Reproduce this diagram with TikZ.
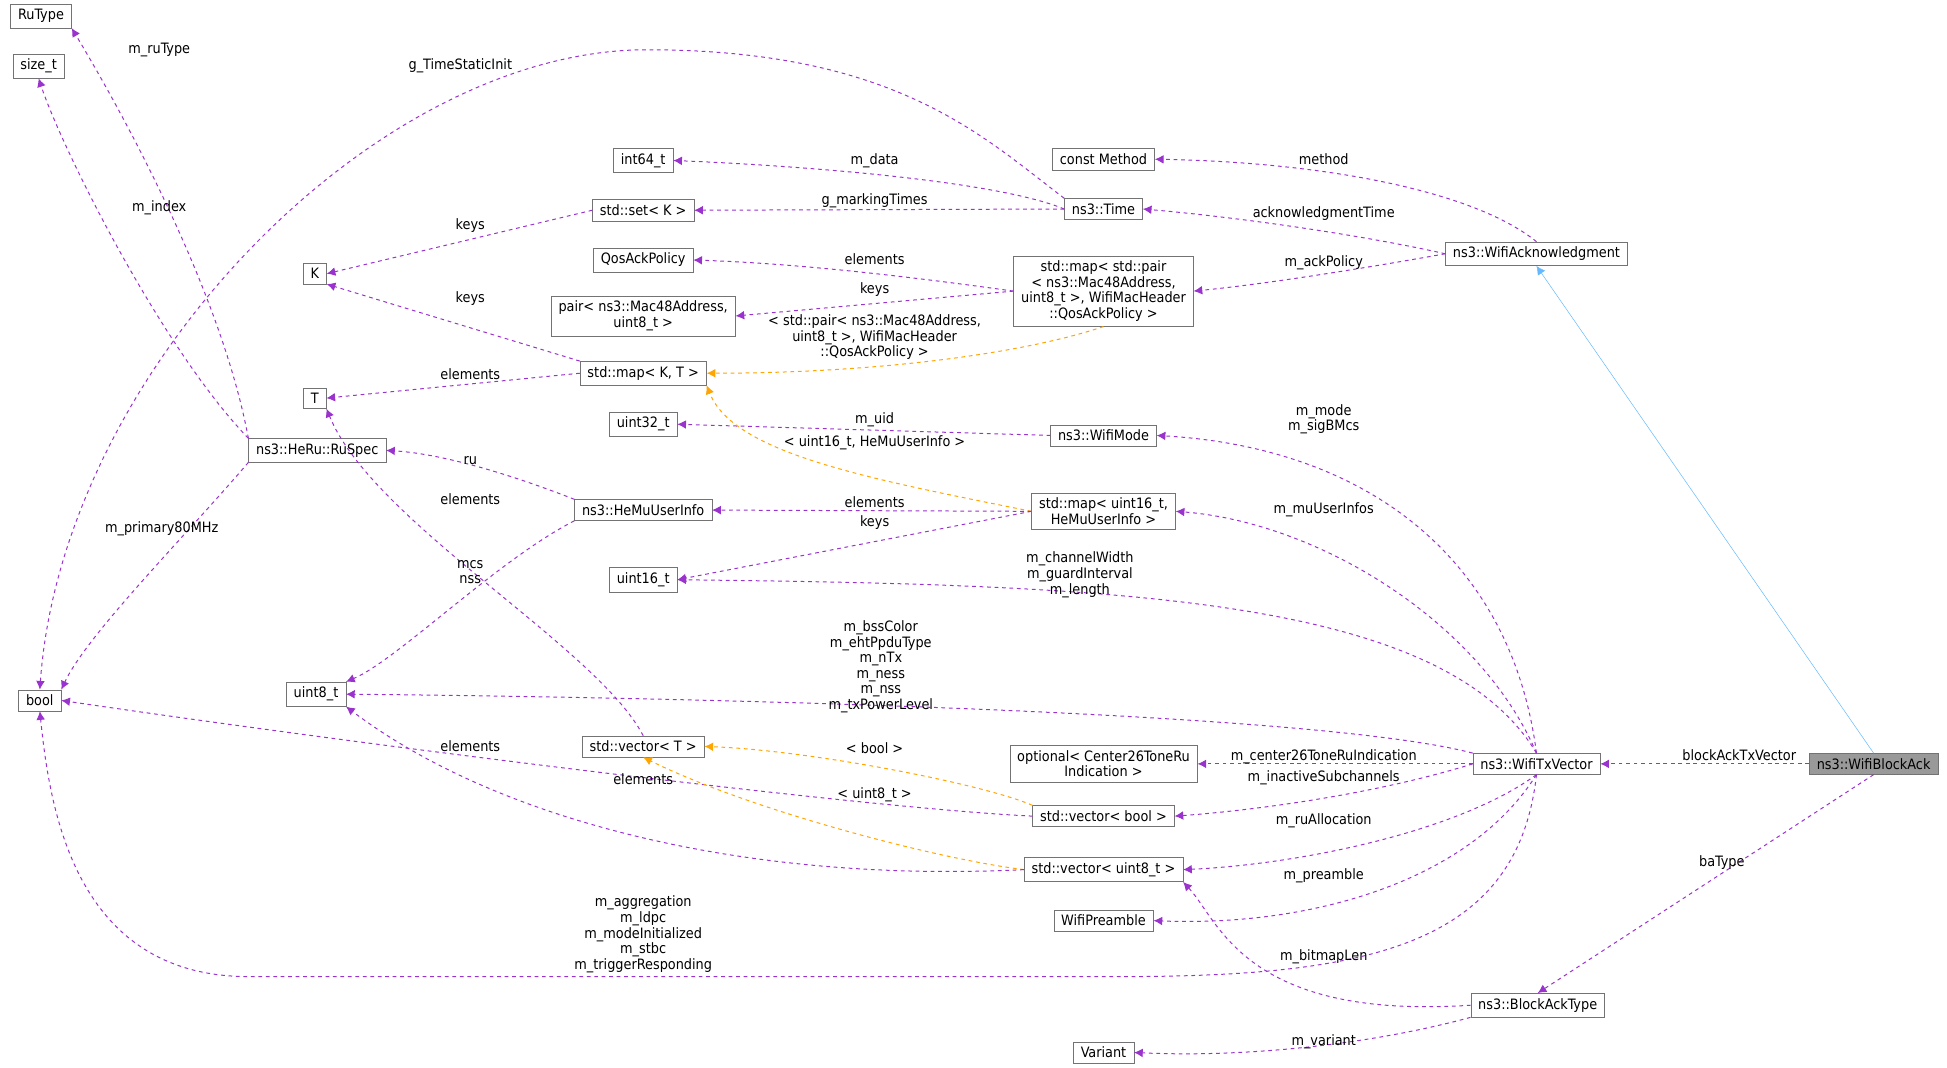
\documentclass[tikz,border=0pt]{standalone}
\usepackage{fontspec}
\setmainfont{DejaVu Sans Condensed}
\usetikzlibrary{arrows.meta}
\definecolor{memb}{HTML}{9A32CD}
\definecolor{tmpl}{HTML}{FFA500}
\definecolor{inher}{HTML}{63B8FF}
\tikzset{
  cls/.style={draw=black!55, fill=white, inner xsep=6pt, inner ysep=4pt, font=\fontsize{11.5}{12.5}\selectfont, align=center},
  lbl/.style={font=\fontsize{11.5}{12.5}\selectfont, align=center, inner sep=0pt},
  uses/.style={memb, dashed, thick, -{Latex[length=7pt,width=7pt]}},
  inst/.style={tmpl, dashed, thick, -{Latex[length=7pt,width=7pt]}},
  isa/.style={inher, -{Latex[length=7pt,width=7pt]}},
}
\begin{document}
\begin{tikzpicture}[x=1pt,y=-1pt]
  \useasboundingbox (0,0) rectangle (1565,858);
  % classes
  \node[cls] (rutype) at (33,13) {RuType};
  \node[cls] (sizet) at (31,53) {size\_t};
  \node[cls] (k) at (253,220) {K};
  \node[cls] (t) at (253,320) {T};
  \node[cls] (bool) at (32,563) {bool};
  \node[cls] (uint8) at (254,558) {uint8\_t};
  \node[cls] (ruspec) at (255,362) {ns3::HeRu::RuSpec};
  \node[cls] (int64) at (517,129) {int64\_t};
  \node[cls] (setk) at (517,169) {std::set< K >};
  \node[cls] (qos) at (517,209) {QosAckPolicy};
  \node[cls] (pair) at (517,254) {pair< ns3::Mac48Address,\\uint8\_t >};
  \node[cls] (mapkt) at (517,300) {std::map< K, T >};
  \node[cls] (uint32) at (517,341) {uint32\_t};
  \node[cls] (hemu) at (517,410) {ns3::HeMuUserInfo};
  \node[cls] (uint16) at (517,466) {uint16\_t};
  \node[cls] (vect) at (517,600) {std::vector< T >};
  \node[cls] (method) at (887,128) {const Method};
  \node[cls] (time) at (887,168) {ns3::Time};
  \node[cls] (mappair) at (887,234) {std::map< std::pair\\< ns3::Mac48Address,\\ uint8\_t >, WifiMacHeader\\::QosAckPolicy >};
  \node[cls] (wifimode) at (887,350) {ns3::WifiMode};
  \node[cls] (mapu16) at (887,411) {std::map< uint16\_t,\\HeMuUserInfo >};
  \node[cls] (optional) at (887,614) {optional< Center26ToneRu\\Indication >};
  \node[cls] (vecbool) at (887,656) {std::vector< bool >};
  \node[cls] (vecu8) at (887,699) {std::vector< uint8\_t >};
  \node[cls] (preamble) at (887,740) {WifiPreamble};
  \node[cls] (variant) at (887,846) {Variant};
  \node[cls] (wifiack) at (1235,204) {ns3::WifiAcknowledgment};
  \node[cls] (txvector) at (1235,614) {ns3::WifiTxVector};
  \node[cls] (batype) at (1236,808) {ns3::BlockAckType};
  \node[cls, fill=black!40] (blockack) at (1506,614) {ns3::WifiBlockAck};
  % connectors
  \draw[uses] (ruspec.north west) .. controls (175,220) and (80,60) .. (rutype.south east);
  \draw[uses] (ruspec.north west) .. controls (130,280) and (50,120) .. (sizet.south);
  \draw[uses] (ruspec.south west) .. controls (150,430) and (70,510) .. (bool.north east);
  \draw[uses] (time.north west) .. controls (790,110) and (720,40) .. (520,40) .. controls (300,40) and (50,300) .. (bool.north);
  \draw[uses] (time.west) .. controls (800,145) and (640,133) .. (int64.east);
  \draw[uses] (time.west) -- (setk.east);
  \draw[uses] (setk.west) -- (k.east);
  \draw[uses] (mapkt.north west) -- (k.south east);
  \draw[uses] (mapkt.west) -- (t.east);
  \draw[uses] (mappair.west) .. controls (750,225) and (650,212) .. (qos.east);
  \draw[uses] (mappair.west) -- (pair.east);
  \draw[inst] (mappair.south) .. controls (820,285) and (700,300) .. (mapkt.east);
  \draw[uses] (wifimode.west) -- (uint32.east);
  \draw[inst] (mapu16.west) .. controls (700,385) and (590,365) .. (mapkt.south east);
  \draw[uses] (mapu16.west) -- (hemu.east);
  \draw[uses] (mapu16.west) -- (uint16.east);
  \draw[uses] (hemu.north west) .. controls (420,385) and (360,365) .. (ruspec.east);
  \draw[uses] (hemu.south west) .. controls (400,450) and (320,530) .. (uint8.north east);
  \draw[uses] (vect.north) .. controls (480,520) and (300,420) .. (t.south east);
  \draw[uses] (wifiack.north) .. controls (1180,150) and (1050,130) .. (method.east);
  \draw[uses] (wifiack.west) .. controls (1100,190) and (1000,175) .. (time.east);
  \draw[uses] (wifiack.west) .. controls (1100,215) and (1020,228) .. (mappair.east);
  \draw[isa] (blockack.north) -- (wifiack.south);
  \draw[uses] (txvector.north) .. controls (1215,450) and (1100,360) .. (wifimode.east);
  \draw[uses] (txvector.north) .. controls (1190,500) and (1060,420) .. (mapu16.east);
  \draw[uses] (txvector.north) .. controls (1160,480) and (900,470) .. (uint16.east);
  \draw[uses] (txvector.north west) .. controls (1050,570) and (500,560) .. (uint8.east);
  \draw[uses] (txvector.west) -- (optional.east);
  \draw[uses] (txvector.west) .. controls (1100,640) and (1000,652) .. (vecbool.east);
  \draw[uses] (txvector.south) .. controls (1170,670) and (1040,695) .. (vecu8.east);
  \draw[uses] (txvector.south) .. controls (1180,710) and (1050,745) .. (preamble.east);
  \draw[uses] (txvector.south) .. controls (1220,760) and (1100,785) .. (900,785) -- (200,785) .. controls (60,785) and (40,650) .. (bool.south);
  \draw[uses] (vecbool.west) .. controls (700,650) and (300,600) .. (bool.east);
  \draw[inst] (vecbool.north west) .. controls (790,630) and (650,603) .. (vect.east);
  \draw[inst] (vecu8.west) .. controls (750,690) and (600,650) .. (vect.south);
  \draw[uses] (vecu8.west) .. controls (600,710) and (400,660) .. (uint8.south east);
  \draw[uses] (blockack.west) -- (txvector.east);
  \draw[uses] (blockack.south) -- (batype.north);
  \draw[uses] (batype.south west) .. controls (1100,840) and (1000,850) .. (variant.east);
  \draw[uses] (batype.west) .. controls (1000,820) and (980,740) .. (vecu8.south east);
  % member names
  \node[lbl] (lruType) at (128,40) {m\_ruType};
  \node[lbl] (lindex) at (128,167) {m\_index};
  \node[lbl] (lprimary) at (130,425) {m\_primary80MHz};
  \node[lbl] (lstatic) at (370,53) {g\_TimeStaticInit};
  \node[lbl] (ldata) at (703,129) {m\_data};
  \node[lbl] (lmarking) at (703,161) {g\_markingTimes};
  \node[lbl] (lkeysa) at (378,181) {keys};
  \node[lbl] (lkeysb) at (378,240) {keys};
  \node[lbl] (lelemt) at (378,301) {elements};
  \node[lbl] (lelemq) at (703,208) {elements};
  \node[lbl] (lkeysp) at (703,233) {keys};
  \node[lbl] (lpairarg) at (703,271) {< std::pair< ns3::Mac48Address,\\uint8\_t >, WifiMacHeader\\::QosAckPolicy >};
  \node[lbl] (luid) at (703,337) {m\_uid};
  \node[lbl] (lu16arg) at (703,356) {< uint16\_t, HeMuUserInfo >};
  \node[lbl] (lelemh) at (703,404) {elements};
  \node[lbl] (lkeysu) at (703,420) {keys};
  \node[lbl] (lru) at (378,370) {ru};
  \node[lbl] (lmcs) at (378,460) {mcs\\nss};
  \node[lbl] (lelemv) at (378,401) {elements};
  \node[lbl] (lmethod) at (1064,128) {method};
  \node[lbl] (lacktime) at (1064,172) {acknowledgmentTime};
  \node[lbl] (lackpol) at (1064,211) {m\_ackPolicy};
  \node[lbl] (lmode) at (1064,337) {m\_mode\\m\_sigBMcs};
  \node[lbl] (lmuinfo) at (1064,410) {m\_muUserInfos};
  \node[lbl] (lwidth) at (868,462) {m\_channelWidth\\m\_guardInterval\\m\_length};
  \node[lbl] (lbss) at (708,536) {m\_bssColor\\m\_ehtPpduType\\m\_nTx\\m\_ness\\m\_nss\\m\_txPowerLevel};
  \node[lbl] (lcenter) at (1064,608) {m\_center26ToneRuIndication};
  \node[lbl] (linactive) at (1064,625) {m\_inactiveSubchannels};
  \node[lbl] (lrualloc) at (1064,660) {m\_ruAllocation};
  \node[lbl] (lpreamble) at (1064,704) {m\_preamble};
  \node[lbl] (lflags) at (517,751) {m\_aggregation\\m\_ldpc\\m\_modeInitialized\\m\_stbc\\m\_triggerResponding};
  \node[lbl] (lbitmap) at (1064,769) {m\_bitmapLen};
  \node[lbl] (lelemb) at (517,626) {elements};
  \node[lbl] (lelemu) at (378,600) {elements};
  \node[lbl] (lboolarg) at (703,601) {< bool >};
  \node[lbl] (lu8arg) at (703,639) {< uint8\_t >};
  \node[lbl] (ltxv) at (1398,607) {blockAckTxVector};
  \node[lbl] (lbatype) at (1384,693) {baType};
  \node[lbl] (lvariant) at (1064,837) {m\_variant};
\end{tikzpicture}
\end{document}
